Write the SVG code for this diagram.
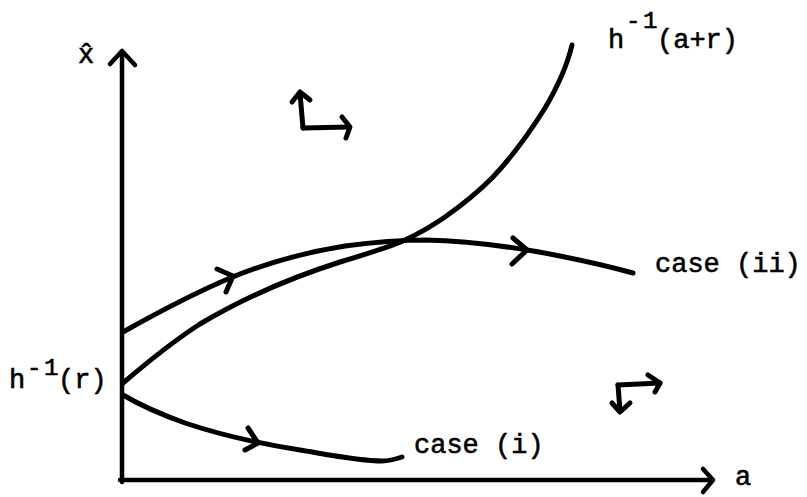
<svg xmlns="http://www.w3.org/2000/svg" width="807" height="497" viewBox="0 0 807 497">
<style>
.ln{fill:none;stroke:#000;stroke-width:5;stroke-linecap:round;stroke-linejoin:round}
.ax{fill:none;stroke:#000;stroke-width:4.5;stroke-linecap:round;stroke-linejoin:round}
.t{font-family:"Liberation Mono","DejaVu Sans Mono",monospace;font-size:27px;fill:#000;stroke:#000;stroke-width:0.6}
.s{font-size:24px}
</style>
<rect width="807" height="497" fill="#fff"/>
<g id="axes">
<path class="ax" d="M122,482 L122,53"/>
<path class="ax" d="M110,64 L122,51 L135,65"/>
<path class="ax" d="M120,480 L712,480"/>
<path class="ax" d="M703,469 L713,480 L703,492"/>
</g>
<g id="connectors">
<path id="curve-h-ar" class="ln" d="M123,383 C150,360 175,340 200,324 C240,300 290,278 340,262 C370,253 390,247 405,240 C420,233 432,226 445,217 C462,205 478,192 492,178 C512,157 530,132 545,108 C558,86 568,62 572,45"/>
<path id="curve-ii" class="ln" d="M123,332 C155,314 195,293 230,278 C262,265 300,253 345,246 C375,242 400,240 425,240 C470,241 520,248 560,256 C590,262 615,268 633,273"/>
<path class="ln" d="M217,269 L233,276 L226,292"/>
<path class="ln" d="M513,238 L527,250 L512,264"/>
<path id="curve-i" class="ln" d="M123,395 C140,405 160,414 185,423 C215,433 255,443 300,450 C330,455 360,461 382,461 C390,461 396,459 402,457"/>
<path class="ln" d="M248,428 L258,443 L245,450"/>
</g>
<g id="dir-upper">
<path class="ln" d="M303,128 L300,93"/>
<path class="ln" d="M292,102 L300,92 L310,100"/>
<path class="ln" d="M303,128 L349,127"/>
<path class="ln" d="M342,117 L350,127 L346,138"/>
</g>
<g id="dir-lower">
<path class="ln" d="M618,385 L660,383"/>
<path class="ln" d="M648,375 L660,383 L655,392"/>
<path class="ln" d="M618,385 L620,411"/>
<path class="ln" d="M612,403 L620,412 L630,403"/>
</g>
<g id="labels">
<text class="t" x="78" y="63">x̂</text>
<text class="t"><tspan x="9" y="388">h</tspan><tspan class="s" x="27 44" y="375">-1</tspan><tspan x="58" y="388">(r)</tspan></text>
<text class="t"><tspan x="608" y="48">h</tspan><tspan class="s" x="626 643" y="28">-1</tspan><tspan x="657" y="48">(a+r)</tspan></text>
<text class="t" x="655" y="272">case (ii)</text>
<text class="t" x="414" y="453">case (i)</text>
<text class="t" x="735" y="485">a</text>
</g>
</svg>
